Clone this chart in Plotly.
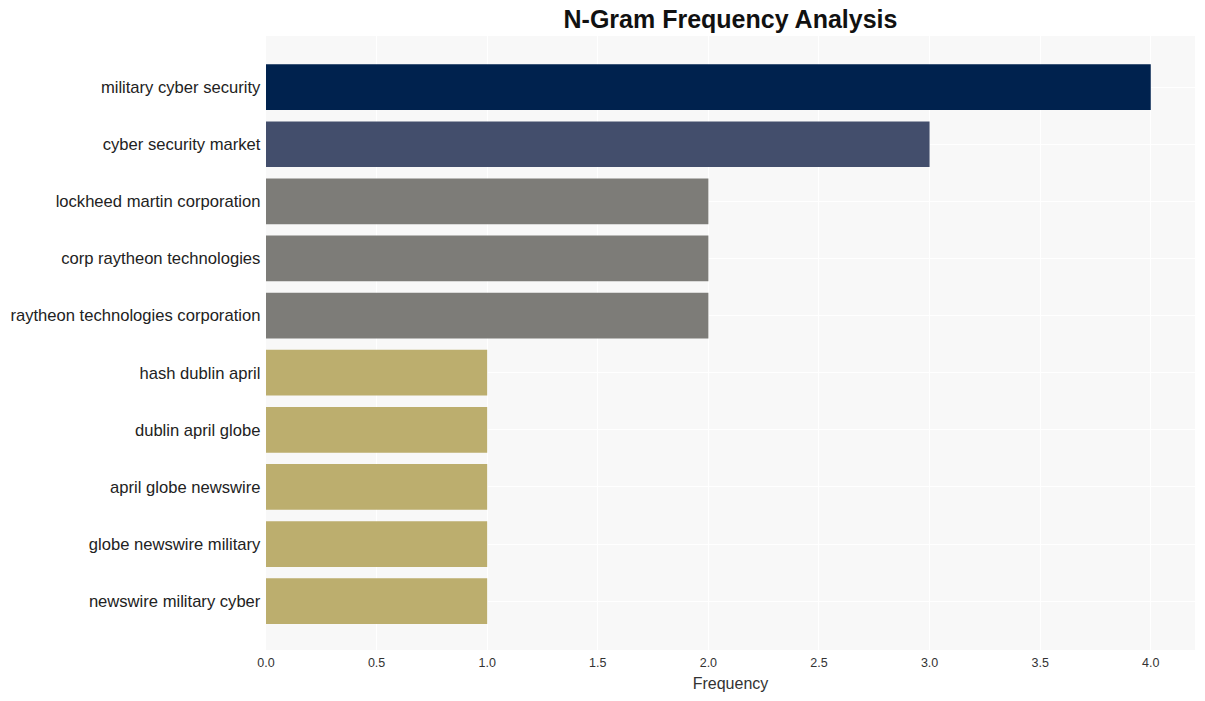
import plotly.graph_objects as go

ngrams = [
    "military cyber security",
    "cyber security market",
    "lockheed martin corporation",
    "corp raytheon technologies",
    "raytheon technologies corporation",
    "hash dublin april",
    "dublin april globe",
    "april globe newswire",
    "globe newswire military",
    "newswire military cyber",
]
frequency = [4, 3, 2, 2, 2, 1, 1, 1, 1, 1]
color_by_value = {4: "#00224e", 3: "#434e6c", 2: "#7d7c78", 1: "#bcae6e"}
bar_colors = [color_by_value[v] for v in frequency]

fig = go.Figure(
    go.Bar(
        x=frequency,
        y=ngrams,
        orientation="h",
        marker=dict(color=bar_colors, line=dict(width=0)),
    )
)

fig.update_layout(
    width=1205,
    height=701,
    margin=dict(l=266, r=10, t=36, b=51),
    paper_bgcolor="white",
    plot_bgcolor="#f8f8f8",
    bargap=0.2,
    showlegend=False,
    font=dict(family="Arial", color="#333333"),
    title=dict(
        text="<b>N-Gram Frequency Analysis</b>",
        x=0.5,
        xref="paper",
        xanchor="center",
        y=0.972,
        yref="container",
        yanchor="middle",
        font=dict(family="Arial", size=25, color="#111111"),
    ),
    xaxis=dict(
        range=[0, 4.2],
        dtick=0.5,
        tickformat=".1f",
        gridcolor="white",
        gridwidth=1,
        zeroline=False,
        showline=False,
        ticks="",
        ticklabelstandoff=3,
        tickfont=dict(size=12.5, color="#333333"),
        title=dict(text="Frequency", font=dict(size=16, color="#333333"), standoff=9),
    ),
    yaxis=dict(
        categoryorder="array",
        categoryarray=ngrams,
        range=[9.855, -0.895],
        gridcolor="white",
        zeroline=False,
        showline=False,
        ticks="",
        ticksuffix=" ",
        tickfont=dict(size=16.6, color="#222222"),
    ),
)

fig.write_html(
    "out.html",
    config={"displayModeBar": False},
    post_script="document.body.style.margin='0';",
)
